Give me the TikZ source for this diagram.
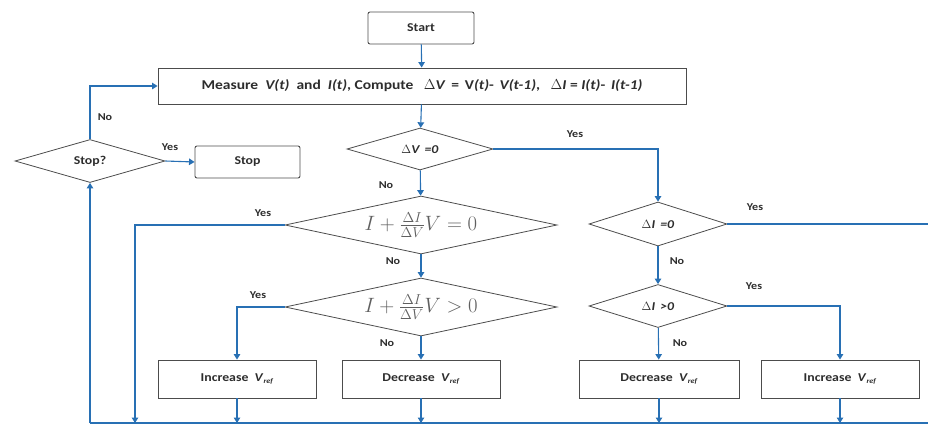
\documentclass[tikz,border=0pt]{standalone}
\usepackage{fontspec}
\setmainfont{Carlito}[FakeStretch=1.15]
\usetikzlibrary{shapes.geometric,arrows.meta}
\definecolor{flow}{RGB}{40,112,180}
\definecolor{ink}{RGB}{45,45,45}
\definecolor{mathgray}{RGB}{95,95,95}
\newcommand{\vref}{\textit{V}\raisebox{-2.5pt}{\fontsize{7}{8}\selectfont\textit{ref}}}
\tikzset{
  box/.style={draw=ink!85, line width=0.9pt, rectangle, inner sep=1pt, font=\bfseries\fontsize{12}{14}\selectfont, text=ink},
  rbox/.style={box, rounded corners=2pt},
  dec/.style={draw=ink!85, line width=0.8pt, diamond, inner sep=0pt, font=\bfseries\fontsize{12}{14}\selectfont, text=ink},
  mdec/.style={dec, font=\fontsize{22}{24}\selectfont, text=mathgray},
  flowline/.style={draw=flow, line width=1.1pt},
  arr/.style={flowline, -{Triangle[length=5.5pt,width=6.5pt]}},
  lbl/.style={font=\bfseries\fontsize{10.5}{12}\selectfont, text=ink, inner sep=0pt},
}
\begin{document}
\begin{tikzpicture}[x=1pt,y=-1pt]
\useasboundingbox (0,0) rectangle (928,426);
% nodes
\node[rbox, minimum width=106pt, minimum height=32pt] (start) at (421,28) {Start};
\node[box, minimum width=528pt, minimum height=36pt, font=\bfseries\fontsize{13.5}{15}\selectfont] (meas) at (422,86)
  {Measure \ \textit{V(t)} \ and \ \textit{I(t)}, Compute \ \ \textit{$\Delta$V} \,= \,V\textit{(t)}- \,\textit{V(t-1)}, \ \ \textit{$\Delta$I} = \textit{I(t)}- \,\textit{I(t-1)}};
\node[dec, minimum width=146pt, minimum height=42pt, shape aspect=3.5] (dv) at (420,149) {\textit{$\Delta$V \,=0}};
\node[dec, minimum width=150pt, minimum height=43pt, shape aspect=3.5] (stopq) at (90,161) {Stop?};
\node[rbox, minimum width=105pt, minimum height=32pt] (stop) at (247.5,162) {Stop};
\node[mdec, minimum width=272pt, minimum height=58pt, shape aspect=4.7] (eq0) at (421,225) {$I+\frac{\Delta I}{\Delta V}V=0$};
\node[mdec, minimum width=272pt, minimum height=58pt, shape aspect=4.7] (gt0) at (421,307) {$I+\frac{\Delta I}{\Delta V}V>0$};
\node[dec, minimum width=138pt, minimum height=44pt, shape aspect=3.1] (di0) at (658,224) {\textit{$\Delta$I \,=0}};
\node[dec, minimum width=138pt, minimum height=43pt, shape aspect=3.1] (dig) at (658,306) {\textit{$\Delta$I \,>0}};
\node[box, minimum width=158pt, minimum height=38pt] (incL) at (237,379) {Increase \ \vref};
\node[box, minimum width=158pt, minimum height=38pt] (decL) at (421,379) {Decrease \ \vref};
\node[box, minimum width=160pt, minimum height=38pt] (decR) at (659,379) {Decrease \ \vref};
\node[box, minimum width=158pt, minimum height=38pt] (incR) at (840,379) {Increase \ \vref};
% bottom return line coordinates
\coordinate (bl) at (90,423);
\coordinate (br) at (928,423);
\coordinate (b1) at (135,423);
\coordinate (rr) at (928,224);
% connectors
\draw[arr] (start) -- (meas);
\draw[arr] (meas) -- (dv);
\draw[arr] (dv) -- (eq0);
\draw[arr] (dv.east) -| (di0.north);
\draw[arr] (eq0) -- (gt0);
\draw[arr] (gt0.west) -| (incL.north);
\draw[arr] (gt0) -- (decL);
\draw[arr] (di0) -- (dig);
\draw[arr] (dig) -- (decR);
\draw[arr] (dig.east) -| (incR.north);
\draw[arr] (eq0.west) -| (b1);
\draw[flowline] (di0.east) -- (rr);
\draw[flowline] (bl) -- (br);
\draw[arr] (bl) -- (stopq.south);
\draw[arr] (stopq.north) |- (meas.west);
\draw[arr] (stopq.east) -- (stop.west);
\draw[arr] (incL.south) -- (incL.south |- bl);
\draw[arr] (decL.south) -- (decL.south |- bl);
\draw[arr] (decR.south) -- (decR.south |- bl);
\draw[arr] (incR.south) -- (incR.south |- bl);
% labels
\node[lbl] at (105,117) {No};
\node[lbl] at (170,147) {Yes};
\node[lbl] at (575,134) {Yes};
\node[lbl] at (386,185) {No};
\node[lbl] at (263,213) {Yes};
\node[lbl] at (393,261) {No};
\node[lbl] at (258,295) {Yes};
\node[lbl] at (387,343) {No};
\node[lbl] at (677,261) {No};
\node[lbl] at (754,286) {Yes};
\node[lbl] at (680,343) {No};
\node[lbl] at (755,207) {Yes};
\end{tikzpicture}
\end{document}
